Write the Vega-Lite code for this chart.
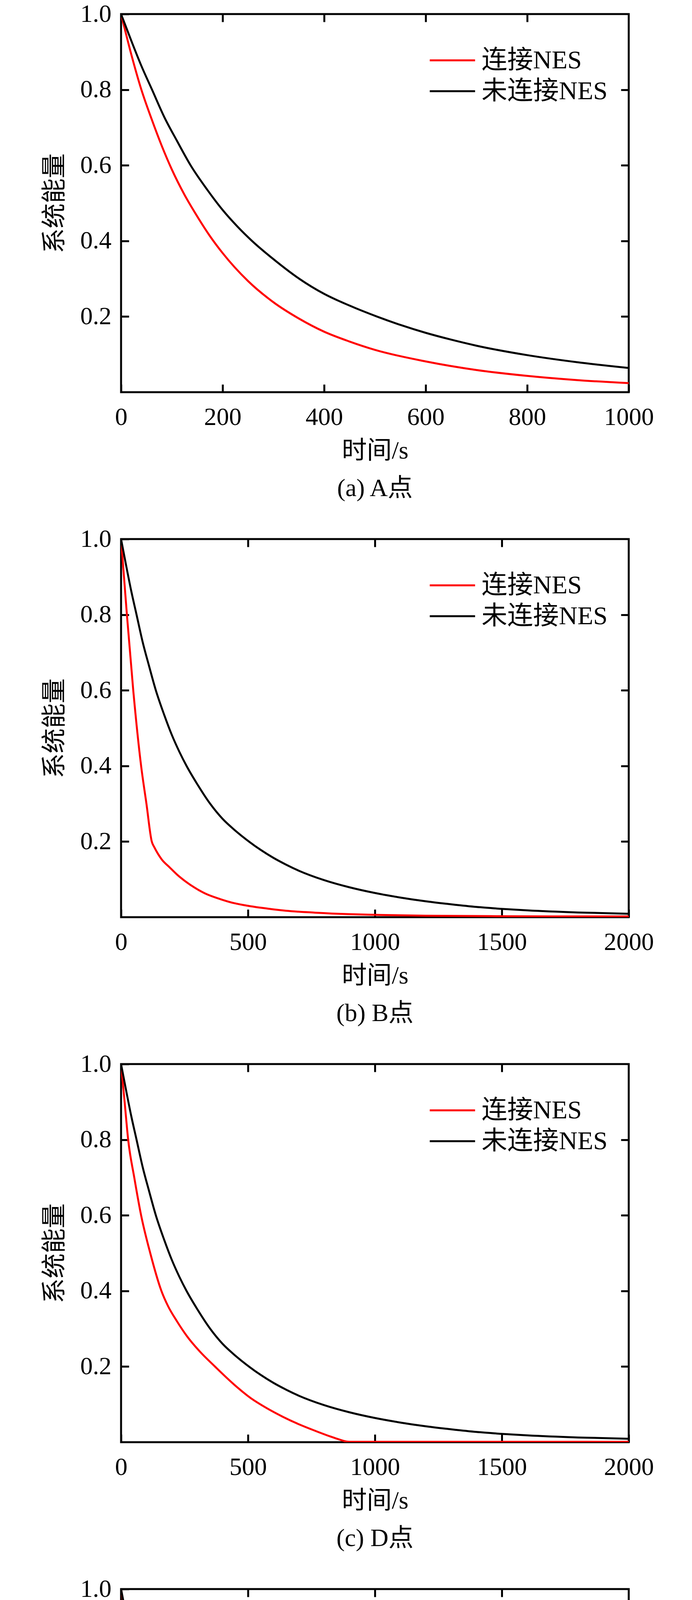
{
  "$schema": "https://vega.github.io/schema/vega-lite/v6.json",
  "padding": {"left": 105, "top": 1, "right": 10, "bottom": 10},
  "background": "white",
  "datasets": {
    "black": [
      {"t": 0, "e": 1.0}, {"t": 20, "e": 0.93}, {"t": 40, "e": 0.863}, {"t": 61, "e": 0.8}, {"t": 85, "e": 0.728},
      {"t": 110, "e": 0.665}, {"t": 137, "e": 0.6}, {"t": 170, "e": 0.535}, {"t": 200, "e": 0.482}, {"t": 230, "e": 0.437},
      {"t": 258, "e": 0.4}, {"t": 300, "e": 0.352}, {"t": 351, "e": 0.3}, {"t": 400, "e": 0.26}, {"t": 450, "e": 0.229},
      {"t": 504, "e": 0.2}, {"t": 550, "e": 0.178}, {"t": 600, "e": 0.157}, {"t": 650, "e": 0.139}, {"t": 700, "e": 0.123},
      {"t": 800, "e": 0.098}, {"t": 900, "e": 0.079}, {"t": 1000, "e": 0.064}, {"t": 1100, "e": 0.052}, {"t": 1200, "e": 0.042},
      {"t": 1300, "e": 0.034}, {"t": 1400, "e": 0.027}, {"t": 1500, "e": 0.022}, {"t": 1600, "e": 0.018}, {"t": 1800, "e": 0.0125},
      {"t": 2000, "e": 0.009}
    ],
    "redA": [
      {"t": 0, "e": 1.0}, {"t": 20, "e": 0.894}, {"t": 40, "e": 0.8}, {"t": 60, "e": 0.723}, {"t": 80, "e": 0.652},
      {"t": 100, "e": 0.589}, {"t": 125, "e": 0.522}, {"t": 150, "e": 0.465}, {"t": 175, "e": 0.413}, {"t": 200, "e": 0.368},
      {"t": 250, "e": 0.294}, {"t": 300, "e": 0.238}, {"t": 350, "e": 0.195}, {"t": 400, "e": 0.16}, {"t": 450, "e": 0.134},
      {"t": 500, "e": 0.112}, {"t": 600, "e": 0.0814}, {"t": 700, "e": 0.0587}, {"t": 800, "e": 0.0431}, {"t": 900, "e": 0.0318},
      {"t": 1000, "e": 0.024}
    ],
    "redB": [
      {"t": 0, "e": 1.0}, {"t": 23, "e": 0.8}, {"t": 48, "e": 0.6}, {"t": 79, "e": 0.4}, {"t": 100, "e": 0.3},
      {"t": 121, "e": 0.2}, {"t": 131, "e": 0.185}, {"t": 145, "e": 0.168}, {"t": 160, "e": 0.153}, {"t": 191, "e": 0.132},
      {"t": 220, "e": 0.113}, {"t": 255, "e": 0.094}, {"t": 290, "e": 0.078}, {"t": 332, "e": 0.0625}, {"t": 390, "e": 0.048},
      {"t": 446, "e": 0.037}, {"t": 510, "e": 0.029}, {"t": 574, "e": 0.023}, {"t": 650, "e": 0.017}, {"t": 765, "e": 0.012},
      {"t": 900, "e": 0.008}, {"t": 1020, "e": 0.006}, {"t": 1200, "e": 0.004}, {"t": 1400, "e": 0.003}, {"t": 1700, "e": 0.002},
      {"t": 2000, "e": 0.002}
    ],
    "redC": [
      {"t": 0, "e": 1.0}, {"t": 14, "e": 0.9}, {"t": 28, "e": 0.8}, {"t": 52, "e": 0.7}, {"t": 79, "e": 0.6},
      {"t": 115, "e": 0.5}, {"t": 159, "e": 0.4}, {"t": 185, "e": 0.36}, {"t": 220, "e": 0.32}, {"t": 260, "e": 0.28},
      {"t": 310, "e": 0.24}, {"t": 370, "e": 0.2}, {"t": 446, "e": 0.152}, {"t": 510, "e": 0.117}, {"t": 574, "e": 0.09},
      {"t": 638, "e": 0.067}, {"t": 702, "e": 0.047}, {"t": 765, "e": 0.03}, {"t": 829, "e": 0.014}, {"t": 860, "e": 0.007},
      {"t": 885, "e": 0.002}, {"t": 900, "e": 0.001}, {"t": 1200, "e": 0.001}, {"t": 2000, "e": 0.001}
    ],
    "redD": [
      {"t": 0, "e": 1.0}, {"t": 24, "e": 0.9}, {"t": 48, "e": 0.8}, {"t": 75, "e": 0.7}, {"t": 102, "e": 0.6},
      {"t": 150, "e": 0.497}, {"t": 210, "e": 0.4}, {"t": 260, "e": 0.34}, {"t": 320, "e": 0.28}, {"t": 375, "e": 0.24},
      {"t": 434, "e": 0.2}, {"t": 490, "e": 0.172}, {"t": 548, "e": 0.148}, {"t": 638, "e": 0.112}, {"t": 700, "e": 0.092},
      {"t": 765, "e": 0.075}, {"t": 830, "e": 0.06}, {"t": 893, "e": 0.047}, {"t": 960, "e": 0.036}, {"t": 1020, "e": 0.027},
      {"t": 1085, "e": 0.019}, {"t": 1148, "e": 0.013}, {"t": 1210, "e": 0.008}, {"t": 1276, "e": 0.005}, {"t": 1340, "e": 0.003},
      {"t": 1403, "e": 0.002}, {"t": 1600, "e": 0.001}, {"t": 2000, "e": 0.001}
    ]
  },
  "spacing": 59,
  "vconcat": [
    {
      "width": 1300, "height": 968,
      "title": {"text": "(a) A点"},
      "layer": [
        {
          "data": {"name": "redA"},
          "transform": [{"calculate": "'连接NES'", "as": "s"}],
          "mark": {"type": "line", "strokeWidth": 5, "interpolate": "monotone", "clip": true},
          "encoding": {
            "x": {"field": "t", "type": "quantitative", "scale": {"domain": [0, 1000], "nice": false},
                  "axis": {"values": [0, 200, 400, 600, 800, 1000], "format": "d", "title": "时间/s"}},
            "y": {"field": "e", "type": "quantitative", "scale": {"domain": [0, 1]},
                  "axis": {"values": [0.2, 0.4, 0.6, 0.8, 1.0], "format": ".1f", "title": "系统能量"}},
            "color": {"field": "s", "type": "nominal", "scale": {"domain": ["连接NES", "未连接NES"], "range": ["#ff0000", "#000000"]},
                      "legend": {"orient": "none", "legendX": 788, "legendY": 79}}
          }
        },
        {
          "data": {"name": "black"},
          "transform": [{"filter": "datum.t <= 1000"}, {"calculate": "'未连接NES'", "as": "s"}],
          "mark": {"type": "line", "strokeWidth": 5, "interpolate": "monotone", "clip": true},
          "encoding": {
            "x": {"field": "t", "type": "quantitative", "axis": {"orient": "top", "values": [200, 400, 600, 800], "labels": false, "title": null}},
            "y": {"field": "e", "type": "quantitative", "axis": {"orient": "right", "values": [0.2, 0.4, 0.6, 0.8], "labels": false, "title": null}},
            "color": {"field": "s", "type": "nominal"}
          }
        }
      ],
      "resolve": {"axis": {"x": "independent", "y": "independent"}}
    },
    {
      "width": 1300, "height": 968,
      "title": {"text": "(b) B点"},
      "layer": [
        {
          "data": {"name": "redB"},
          "transform": [{"calculate": "'连接NES'", "as": "s"}],
          "mark": {"type": "line", "strokeWidth": 5, "interpolate": "monotone", "clip": true},
          "encoding": {
            "x": {"field": "t", "type": "quantitative", "scale": {"domain": [0, 2000], "nice": false},
                  "axis": {"values": [0, 500, 1000, 1500, 2000], "format": "d", "title": "时间/s"}},
            "y": {"field": "e", "type": "quantitative", "scale": {"domain": [0, 1]},
                  "axis": {"values": [0.2, 0.4, 0.6, 0.8, 1.0], "format": ".1f", "title": "系统能量"}},
            "color": {"field": "s", "type": "nominal", "scale": {"domain": ["连接NES", "未连接NES"], "range": ["#ff0000", "#000000"]},
                      "legend": {"orient": "none", "legendX": 788, "legendY": 79}}
          }
        },
        {
          "data": {"name": "black"},
          "transform": [{"calculate": "'未连接NES'", "as": "s"}],
          "mark": {"type": "line", "strokeWidth": 5, "interpolate": "monotone", "clip": true},
          "encoding": {
            "x": {"field": "t", "type": "quantitative", "axis": {"orient": "top", "values": [500, 1000, 1500], "labels": false, "title": null}},
            "y": {"field": "e", "type": "quantitative", "axis": {"orient": "right", "values": [0.2, 0.4, 0.6, 0.8], "labels": false, "title": null}},
            "color": {"field": "s", "type": "nominal"}
          }
        }
      ],
      "resolve": {"axis": {"x": "independent", "y": "independent"}}
    },
    {
      "width": 1300, "height": 968,
      "title": {"text": "(c) D点"},
      "layer": [
        {
          "data": {"name": "redC"},
          "transform": [{"calculate": "'连接NES'", "as": "s"}],
          "mark": {"type": "line", "strokeWidth": 5, "interpolate": "monotone", "clip": true},
          "encoding": {
            "x": {"field": "t", "type": "quantitative", "scale": {"domain": [0, 2000], "nice": false},
                  "axis": {"values": [0, 500, 1000, 1500, 2000], "format": "d", "title": "时间/s"}},
            "y": {"field": "e", "type": "quantitative", "scale": {"domain": [0, 1]},
                  "axis": {"values": [0.2, 0.4, 0.6, 0.8, 1.0], "format": ".1f", "title": "系统能量"}},
            "color": {"field": "s", "type": "nominal", "scale": {"domain": ["连接NES", "未连接NES"], "range": ["#ff0000", "#000000"]},
                      "legend": {"orient": "none", "legendX": 788, "legendY": 79}}
          }
        },
        {
          "data": {"name": "black"},
          "transform": [{"calculate": "'未连接NES'", "as": "s"}],
          "mark": {"type": "line", "strokeWidth": 5, "interpolate": "monotone", "clip": true},
          "encoding": {
            "x": {"field": "t", "type": "quantitative", "axis": {"orient": "top", "values": [500, 1000, 1500], "labels": false, "title": null}},
            "y": {"field": "e", "type": "quantitative", "axis": {"orient": "right", "values": [0.2, 0.4, 0.6, 0.8], "labels": false, "title": null}},
            "color": {"field": "s", "type": "nominal"}
          }
        }
      ],
      "resolve": {"axis": {"x": "independent", "y": "independent"}}
    },
    {
      "width": 1300, "height": 968,
      "title": {"text": "(d) E点"},
      "layer": [
        {
          "data": {"name": "redD"},
          "transform": [{"calculate": "'连接NES'", "as": "s"}],
          "mark": {"type": "line", "strokeWidth": 5, "interpolate": "monotone", "clip": true},
          "encoding": {
            "x": {"field": "t", "type": "quantitative", "scale": {"domain": [0, 2000], "nice": false},
                  "axis": {"values": [0, 500, 1000, 1500, 2000], "format": "d", "title": "时间/s"}},
            "y": {"field": "e", "type": "quantitative", "scale": {"domain": [0, 1]},
                  "axis": {"values": [0.2, 0.4, 0.6, 0.8, 1.0], "format": ".1f", "title": "系统能量"}},
            "color": {"field": "s", "type": "nominal", "scale": {"domain": ["连接NES", "未连接NES"], "range": ["#ff0000", "#000000"]},
                      "legend": {"orient": "none", "legendX": 788, "legendY": 79}}
          }
        },
        {
          "data": {"name": "black"},
          "transform": [{"calculate": "'未连接NES'", "as": "s"}],
          "mark": {"type": "line", "strokeWidth": 5, "interpolate": "monotone", "clip": true},
          "encoding": {
            "x": {"field": "t", "type": "quantitative", "axis": {"orient": "top", "values": [500, 1000, 1500], "labels": false, "title": null}},
            "y": {"field": "e", "type": "quantitative", "axis": {"orient": "right", "values": [0.2, 0.4, 0.6, 0.8], "labels": false, "title": null}},
            "color": {"field": "s", "type": "nominal"}
          }
        }
      ],
      "resolve": {"axis": {"x": "independent", "y": "independent"}}
    }
  ],
  "resolve": {"scale": {"color": "independent"}},
  "config": {
    "font": "Liberation Serif, Noto Sans CJK SC",
    "view": {"stroke": "#000000", "strokeWidth": 5},
    "axis": {
      "domain": false, "grid": false, "labelFlush": false, "labelOverlap": false,
      "tickColor": "#000000", "tickWidth": 5, "tickSize": -20,
      "labelFont": "Liberation Serif, Noto Sans CJK SC", "labelFontSize": 64, "labelColor": "#000000",
      "titleFont": "Liberation Serif, Noto Sans CJK SC", "titleFontSize": 64, "titleFontWeight": "normal", "titleColor": "#000000"
    },
    "axisBottom": {"labelPadding": 52, "titlePadding": 22},
    "axisLeft": {"labelPadding": 45, "titlePadding": 33},
    "legend": {
      "padding": 0, "title": null, "labelLimit": 0,
      "symbolType": "stroke", "symbolSize": 13456, "symbolStrokeWidth": 5,
      "labelFont": "Liberation Serif, Noto Sans CJK SC", "labelFontSize": 66, "labelColor": "#000000",
      "labelOffset": 14, "rowPadding": 0, "clipHeight": 79
    },
    "title": {
      "orient": "bottom", "anchor": "middle", "offset": 33,
      "font": "Liberation Serif, Noto Sans CJK SC", "fontSize": 64, "fontWeight": "normal", "color": "#000000"
    }
  }
}
